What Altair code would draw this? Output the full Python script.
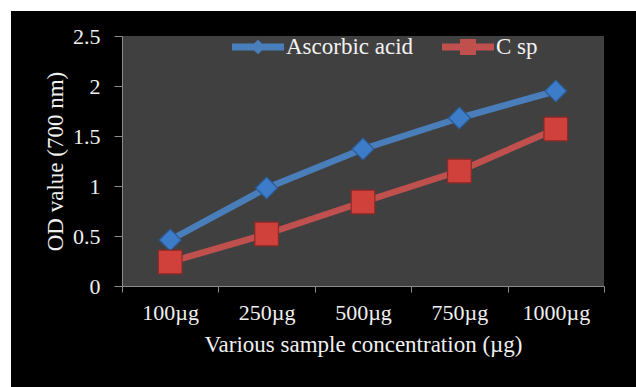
import altair as alt
import pandas as pd

categories = ["100µg", "250µg", "500µg", "750µg", "1000µg"]
ascorbic = [0.46, 0.98, 1.37, 1.68, 1.95]
csp = [0.24, 0.52, 0.84, 1.15, 1.57]
series_names = ["Ascorbic acid", "C sp"]
y_ticks = [0, 0.5, 1, 1.5, 2, 2.5]

rows = []
for c, v in zip(categories, ascorbic):
    rows.append({"conc": c, "od": v, "series": series_names[0]})
for c, v in zip(categories, csp):
    rows.append({"conc": c, "od": v, "series": series_names[1]})
df = pd.DataFrame(rows)

W, H = 482, 250
FONT = "Liberation Serif"
BLUE_LINE, RED_LINE = "#4a7ebb", "#c0504d"

dia_path = "M-1,-0.13L1,-0.13L1,0.13L-1,0.13Z M0,-0.28L0.3,0L0,0.28L-0.3,0Z"
sq_path = "M-1,-0.13L1,-0.13L1,0.13L-1,0.13Z M-0.31,-0.31L0.31,-0.31L0.31,0.31L-0.31,0.31Z"

legend = alt.Legend(
    orient="none", legendX=110, legendY=-15, direction="horizontal", title=None,
    labelFont=FONT, labelFontSize=23, labelColor="#f2f2f2",
    symbolSize=2704, labelOffset=2, columnPadding=28, padding=0,
    symbolOpacity=1, symbolStrokeWidth=0,
)

x_enc = alt.X("conc:N", sort=categories, bandPosition=0.5,
              scale=alt.Scale(type="band", paddingInner=0, paddingOuter=0),
              axis=alt.Axis(title="Various sample concentration (µg)", labelAngle=0, tickBand="extent",
                            tickSize=6, labelPadding=27, labelBaseline="alphabetic",
                            titleX=241, titleY=65, titleBaseline="alphabetic"))
y_enc = alt.Y("od:Q", scale=alt.Scale(domain=[0, 2.5], nice=False),
              axis=alt.Axis(title="OD value (700 nm)", values=y_ticks, format="~g", tickSize=8,
                            labelPadding=14, titleX=-67, titleY=125, titleBaseline="middle"))

base = alt.Chart(df)

strip_top = base.mark_rect(color="white").encode(
    x=alt.value(-122), x2=alt.value(W + 32), y=alt.value(-36), y2=alt.value(-25))
strip_left = base.mark_rect(color="white").encode(
    x=alt.value(-122), x2=alt.value(-111), y=alt.value(-36), y2=alt.value(H + 101))

only_a = alt.datum.series == series_names[0]
only_c = alt.datum.series == series_names[1]

line_a = base.transform_filter(only_a).mark_line(
    strokeWidth=6.5, strokeJoin="round", strokeCap="round", color=BLUE_LINE).encode(x=x_enc, y=y_enc)
line_c = base.transform_filter(only_c).mark_line(
    strokeWidth=6.5, strokeJoin="round", strokeCap="round", color=RED_LINE).encode(x=x_enc, y=y_enc)

pts_a = base.transform_filter(only_a).mark_point(
    shape="diamond", filled=True, opacity=1, size=480, fill="#3d7cc9", stroke="#2c5a93", strokeWidth=1.2
).encode(x=x_enc, y=y_enc)
pts_c = base.transform_filter(only_c).mark_point(
    shape="square", filled=True, opacity=1, size=560, fill="#d0413c", stroke="#8b2a27", strokeWidth=1.2
).encode(x=x_enc, y=y_enc)

legend_layer = base.mark_point(filled=True, opacity=0, size=10).encode(
    x=x_enc, y=y_enc,
    color=alt.Color("series:N", scale=alt.Scale(domain=series_names, range=[BLUE_LINE, RED_LINE]), legend=legend),
    shape=alt.Shape("series:N", scale=alt.Scale(domain=series_names, range=[dia_path, sq_path]), legend=legend),
)

chart = alt.layer(strip_top, strip_left, line_a, line_c, pts_a, pts_c, legend_layer).properties(
    width=W, height=H, background="black",
    padding={"left": 122, "top": 36, "right": 32, "bottom": 101},
    autosize=alt.AutoSizeParams(type="none"),
).configure_view(fill="#404040", stroke=None).configure_axis(
    grid=False, domainColor="#8c8c8c", tickColor="#8c8c8c", domainWidth=1, tickWidth=1,
    labelFont=FONT, labelFontSize=22, labelColor="#f0f0f0", labelFontWeight="normal",
    titleFont=FONT, titleFontSize=23, titleColor="#f0f0f0", titleFontWeight="normal",
)

chart.save("out.html", embed_options={"renderer": "svg", "actions": False})
